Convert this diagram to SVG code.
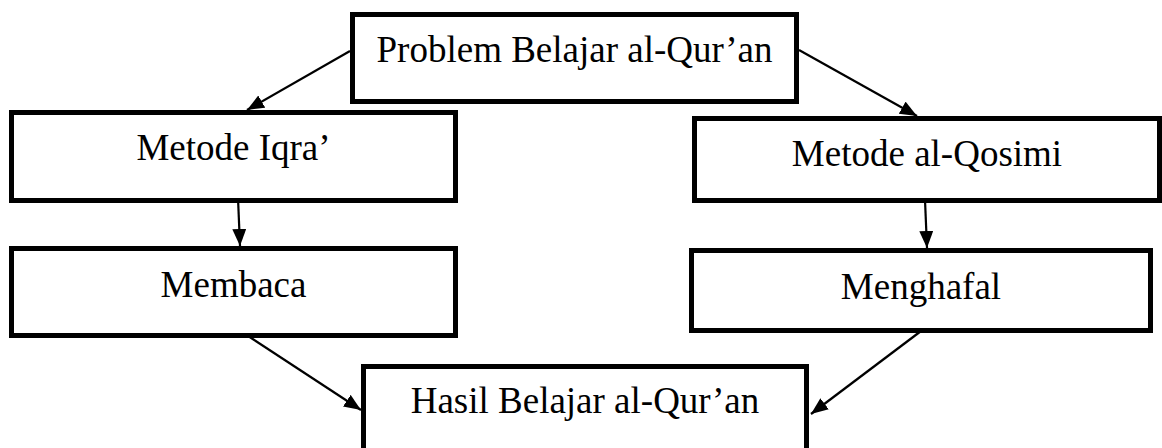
<svg xmlns="http://www.w3.org/2000/svg" width="1162" height="448" viewBox="0 0 1162 448">
  <style>
    .box { fill: #ffffff; stroke: #000000; stroke-width: 5; }
    .lbl { font-family: "Liberation Serif", "Times New Roman", serif; font-size: 37px; fill: #000000; text-anchor: middle; }
    .conn { stroke: #000000; stroke-width: 2.2; fill: none; marker-end: url(#arrow); }
  </style>
  <defs>
    <marker id="arrow" markerUnits="userSpaceOnUse" markerWidth="18" markerHeight="15" refX="17" refY="7" orient="auto">
      <path d="M0,0 L17,7 L0,14 z" fill="#000000"/>
    </marker>
  </defs>
  <rect width="1162" height="448" fill="#ffffff"/>
  <g id="connectors">
    <line class="conn" x1="350" y1="51" x2="247" y2="110"/>
    <line class="conn" x1="799" y1="50" x2="917" y2="116"/>
    <line class="conn" x1="238" y1="198" x2="240" y2="246"/>
    <line class="conn" x1="925" y1="200" x2="927" y2="248"/>
    <line class="conn" x1="242" y1="332" x2="361" y2="410"/>
    <line class="conn" x1="929" y1="325" x2="811" y2="414"/>
  </g>
  <g id="node-problem">
    <rect class="box" x="352.5" y="14.5" width="444" height="87"/>
    <text class="lbl" x="574.5" y="62">Problem Belajar al-Qur’an</text>
  </g>
  <g id="node-iqra">
    <rect class="box" x="11.5" y="112.5" width="444" height="88"/>
    <text class="lbl" x="233.5" y="160">Metode Iqra’</text>
  </g>
  <g id="node-qosimi">
    <rect class="box" x="694.5" y="118.5" width="465" height="82"/>
    <text class="lbl" x="927" y="166">Metode al-Qosimi</text>
  </g>
  <g id="node-membaca">
    <rect class="box" x="11.5" y="248.5" width="444" height="87"/>
    <text class="lbl" x="233.5" y="297">Membaca</text>
  </g>
  <g id="node-menghafal">
    <rect class="box" x="691.5" y="250.5" width="459" height="80"/>
    <text class="lbl" x="921" y="299">Menghafal</text>
  </g>
  <g id="node-hasil">
    <rect class="box" x="363.5" y="366.5" width="443" height="120"/>
    <text class="lbl" x="585" y="413">Hasil Belajar al-Qur’an</text>
  </g>
</svg>
